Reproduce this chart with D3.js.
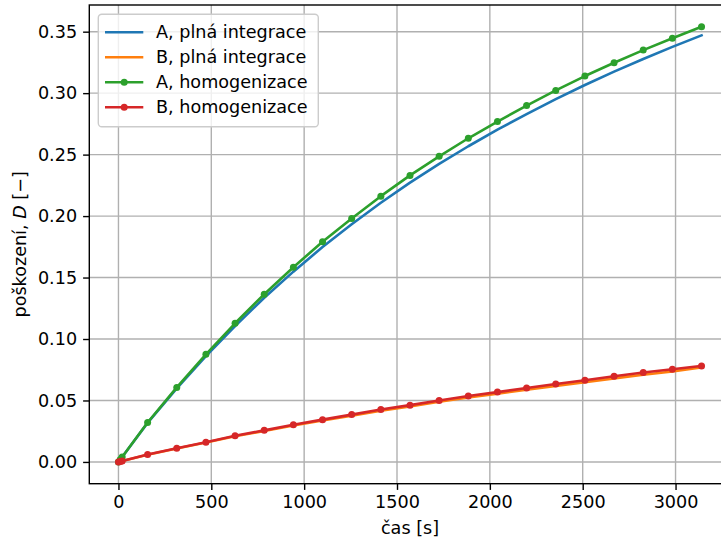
<!DOCTYPE html>
<html>
<head>
<meta charset="utf-8">
<script src="https://cdn.jsdelivr.net/npm/d3@7"></script>
<style>
  body { margin: 0; background: #fff; }
  svg { display: block; font-family: "DejaVu Sans", sans-serif; }
  .tick text { font-size: 17.6px; fill: #000; font-family: "DejaVu Sans", sans-serif; }
</style>
</head>
<body>
<svg width="721" height="542"></svg>
<script>
// time steps [s]
const times = [0, 157, 314, 471, 628, 785, 942, 1099, 1256, 1413, 1570,
  1727, 1884, 2041, 2198, 2355, 2512, 2669, 2826, 2983, 3140];

// damage D, full integration
const aFull = [0, 0.0318, 0.0598, 0.0860, 0.1105, 0.1335, 0.1548, 0.1748, 0.1933, 0.2108, 0.2272,
  0.2424, 0.2568, 0.2703, 0.2830, 0.2951, 0.3066, 0.3175, 0.3278, 0.3376, 0.3470];
const bFull = [0, 0.0059, 0.0110, 0.0158, 0.0209, 0.0252, 0.0297, 0.0337, 0.0377, 0.0417, 0.0452,
  0.0489, 0.0524, 0.0555, 0.0587, 0.0619, 0.0648, 0.0680, 0.0709, 0.0736, 0.0770];

// damage D, homogenization (extra early steps near t = 0)
const homTimes = [0, 10, 20, 157, 314, 471, 628, 785, 942, 1099, 1256, 1413, 1570,
  1727, 1884, 2041, 2198, 2355, 2512, 2669, 2826, 2983, 3140];
const aHom = [0, 0.002, 0.004, 0.0321, 0.0606, 0.0875, 0.1128, 0.1364, 0.1584, 0.1791, 0.1981, 0.2162, 0.2331,
  0.2486, 0.2633, 0.2769, 0.2899, 0.3022, 0.3139, 0.3247, 0.3350, 0.3447, 0.3540];
const bHom = [0, 0.0004, 0.0008, 0.0060, 0.0112, 0.0161, 0.0213, 0.0257, 0.0303, 0.0344, 0.0385, 0.0426, 0.0462,
  0.0500, 0.0536, 0.0568, 0.0601, 0.0634, 0.0664, 0.0697, 0.0727, 0.0754, 0.0781];

const xTicks = [0, 500, 1000, 1500, 2000, 2500, 3000];
const yTicks = [0, 0.05, 0.10, 0.15, 0.20, 0.25, 0.30, 0.35];

const series = [
  {name: "A, plná integrace", t: times, v: aFull, color: "#1f77b4", dots: false},
  {name: "B, plná integrace", t: times, v: bFull, color: "#ff7f0e", dots: false},
  {name: "A, homogenizace", t: homTimes, v: aHom, color: "#2ca02c", dots: true},
  {name: "B, homogenizace", t: homTimes, v: bHom, color: "#d62728", dots: true}
];

const svg = d3.select("svg");
const mLeft = 89.3, mRight = 730.7, mTop = 5, mBottom = 483.7;
const fs = 17.6;

const x = d3.scaleLinear().domain([-157, 3297]).range([mLeft, mRight]);
const y = d3.scaleLinear().domain([-0.0177, 0.3717]).range([mBottom, mTop]);

// grid
const grid = svg.append("g").attr("stroke", "#b0b0b0").attr("stroke-width", 1.4);
grid.selectAll("line.gx").data(xTicks).enter().append("line")
    .attr("x1", d => x(d)).attr("x2", d => x(d))
    .attr("y1", mTop).attr("y2", mBottom);
grid.selectAll("line.gy").data(yTicks).enter().append("line")
    .attr("x1", mLeft).attr("x2", mRight)
    .attr("y1", d => y(d)).attr("y2", d => y(d));

// lines
const line = d3.line().x(d => x(d[0])).y(d => y(d[1]));
series.forEach(s => {
  const pts = s.t.map((t, i) => [t, s.v[i]]);
  svg.append("path")
      .attr("d", line(pts))
      .attr("fill", "none")
      .attr("stroke", s.color)
      .attr("stroke-width", 2.6)
      .attr("stroke-linejoin", "round")
      .attr("stroke-linecap", "square");
  if (s.dots) {
    svg.append("g").selectAll("circle").data(pts).enter().append("circle")
        .attr("cx", d => x(d[0])).attr("cy", d => y(d[1]))
        .attr("r", 3.5).attr("fill", s.color);
  }
});

// axes
var xAxis = d3.axisBottom(x).tickValues(xTicks).tickSize(6.2).tickPadding(6).tickFormat(d3.format("d"));
var yAxis = d3.axisLeft(y).tickValues(yTicks).tickSize(6.2).tickPadding(6).tickFormat(d3.format(".2f"));

var gx = svg.append("g")
    .attr("transform", "translate(0," + mBottom + ")")
    .call(xAxis);
var gy = svg.append("g")
    .attr("transform", "translate(" + mLeft + ",0)")
    .call(yAxis);
[gx, gy].forEach(g => {
  g.select(".domain").remove();
  g.selectAll(".tick line").attr("stroke", "#000").attr("stroke-width", 1.4);
});

// spines
svg.append("rect")
    .attr("x", mLeft).attr("y", mTop)
    .attr("width", mRight - mLeft).attr("height", mBottom - mTop)
    .attr("fill", "none").attr("stroke", "#000").attr("stroke-width", 1.4);

// axis labels
svg.append("text")
    .attr("x", (mLeft + mRight) / 2).attr("y", 534)
    .attr("text-anchor", "middle").attr("font-size", fs)
    .text("čas [s]");
const yl = svg.append("text")
    .attr("transform", "translate(25.5," + ((mTop + mBottom) / 2) + ") rotate(-90)")
    .attr("text-anchor", "middle").attr("font-size", fs);
yl.append("tspan").text("poškození, ");
yl.append("tspan").attr("font-style", "italic").text("D");
yl.append("tspan").text(" [−]");

// legend
const lg = svg.append("g");
lg.append("rect")
    .attr("x", 98.3).attr("y", 14.3).attr("width", 220).attr("height", 112.4)
    .attr("rx", 3.5)
    .attr("fill", "#fff").attr("fill-opacity", 0.8)
    .attr("stroke", "#cccccc").attr("stroke-width", 1.4);
series.forEach((s, i) => {
  const yy = 32.3 + i * 25;
  lg.append("line")
      .attr("x1", 105).attr("x2", 143.3).attr("y1", yy).attr("y2", yy)
      .attr("stroke", s.color).attr("stroke-width", 2.6);
  if (s.dots) {
    lg.append("circle").attr("cx", 124.2).attr("cy", yy).attr("r", 3.5).attr("fill", s.color);
  }
  lg.append("text")
      .attr("x", 156).attr("y", yy + 5.6)
      .attr("font-size", fs)
      .text(s.name);
});
</script>
</body>
</html>
